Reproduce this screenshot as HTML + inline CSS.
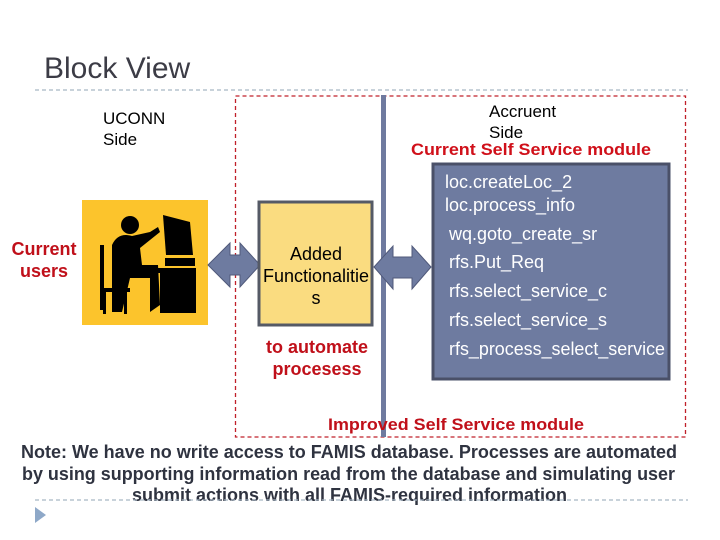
<!DOCTYPE html>
<html><head><meta charset="utf-8"><style>
html,body{margin:0;padding:0;background:#fff;}
svg{display:block;font-family:"Liberation Sans",sans-serif;}
</style></head><body>
<svg width="720" height="540" viewBox="0 0 720 540" xmlns="http://www.w3.org/2000/svg">
<text x="44" y="78" font-size="30" fill="#3c3c46">Block View</text>
<line x1="35" y1="90" x2="688" y2="90" stroke="#a8b6c4" stroke-width="1.2" stroke-dasharray="4,3"/>
<text x="103" y="124" font-size="17" fill="#000">UCONN</text>
<text x="103" y="145" font-size="17" fill="#000">Side</text>
<rect x="235.5" y="96" width="450" height="341" fill="none" stroke="#c0202a" stroke-width="1.3" stroke-dasharray="4,3"/>
<text x="489" y="117" font-size="17" fill="#000">Accruent</text>
<text x="489" y="138" font-size="17" fill="#000">Side</text>
<text x="411" y="155" font-size="17" font-weight="bold" fill="#d0101a" textLength="240" lengthAdjust="spacingAndGlyphs">Current Self Service module</text>
<rect x="433" y="164" width="236" height="215" fill="#6e7ba0" stroke="#4a5068" stroke-width="3"/>
<g font-size="18" fill="#fff">
<text x="445" y="188">loc.createLoc_2</text>
<text x="445" y="211">loc.process_info</text>
<text x="449" y="240">wq.goto_create_sr</text>
<text x="449" y="268">rfs.Put_Req</text>
<text x="449" y="297">rfs.select_service_c</text>
<text x="449" y="326">rfs.select_service_s</text>
<text x="449" y="355" textLength="216" lengthAdjust="spacingAndGlyphs">rfs_process_select_service</text>
</g>
<rect x="381" y="95" width="5" height="342" fill="#6f7a9f"/>
<rect x="82" y="200" width="126" height="125" fill="#fcc42c"/>
<g fill="#000">
<circle cx="130" cy="225" r="9"/>
<path d="M112 245 Q118 232 132 236 L150 232 L158 227 L160 232 L145 244 L140 248 L142 265 L158 265 L160 305 L150 312 L150 278 L130 278 L122 312 L112 312 Z"/>
<rect x="100" y="245" width="4" height="65"/>
<rect x="100" y="288" width="30" height="4"/>
<rect x="103" y="292" width="3" height="22"/>
<rect x="124" y="292" width="3" height="22"/>
<path d="M163 215 L190 222 L193 255 L166 255 Z"/>
<rect x="165" y="258" width="30" height="8"/>
<rect x="148" y="268" width="48" height="5"/>
<rect x="160" y="273" width="36" height="40"/>
</g>
<text x="44" y="255" font-size="18" font-weight="bold" fill="#c0101a" text-anchor="middle">Current</text>
<text x="44" y="277" font-size="18" font-weight="bold" fill="#c0101a" text-anchor="middle">users</text>
<path d="M208 265 L230 243 L230 255 L240 255 L240 243 L260 265 L240 287 L240 275 L230 275 L230 287 Z" fill="#6e7ba0" stroke="#50597a" stroke-width="1"/>
<rect x="259" y="202" width="113" height="123" fill="#fadc80" stroke="#555a66" stroke-width="3"/>
<g font-size="18" fill="#000" text-anchor="middle">
<text x="316" y="260">Added</text>
<text x="316" y="282">Functionalitie</text>
<text x="316" y="304">s</text>
</g>
<text x="317" y="353" font-size="18" font-weight="bold" fill="#c0101a" text-anchor="middle">to automate</text>
<text x="317" y="375" font-size="18" font-weight="bold" fill="#c0101a" text-anchor="middle">procesess</text>
<path d="M374 267 L393 246 L393 257 L412 257 L412 246 L431 267 L412 289 L412 278 L393 278 L393 289 Z" fill="#6e7ba0" stroke="#50597a" stroke-width="1"/>
<text x="328" y="430" font-size="17" font-weight="bold" fill="#c0101a" textLength="256" lengthAdjust="spacingAndGlyphs">Improved Self Service module</text>
<g font-size="18" font-weight="bold" fill="#2f3340">
<text x="21" y="458" textLength="656" lengthAdjust="spacingAndGlyphs">Note: We have no write access to FAMIS database. Processes are automated</text>
<text x="22" y="480" textLength="653" lengthAdjust="spacingAndGlyphs">by using supporting information read from the database and simulating user</text>
<text x="132" y="501" textLength="435" lengthAdjust="spacingAndGlyphs">submit actions with all FAMIS-required information</text>
</g>
<line x1="35" y1="500" x2="688" y2="500" stroke="#a8b6c4" stroke-width="1.2" stroke-dasharray="4,3"/>
<path d="M35 507 L46 515 L35 523 Z" fill="#8ea8c8"/>
</svg>
</body></html>
